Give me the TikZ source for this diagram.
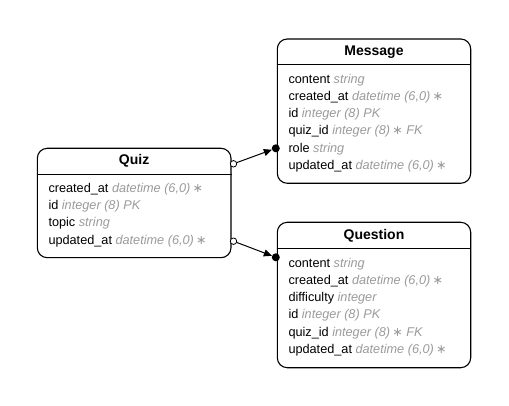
\documentclass[tikz,border=0pt]{standalone}
\usepackage{fontspec}
\setmainfont{Liberation Sans}
\newfontfamily\symfont{DejaVu Sans}
\usetikzlibrary{arrows.meta}
\definecolor{typegray}{RGB}{155,155,155}
\newcommand{\ty}[1]{{\color{typegray}\itshape #1}}
\newcommand{\st}{{\color{typegray}\symfont\fontsize{12.5}{14}\selectfont ∗}}
\tikzset{
  entity/.style={draw=black, line width=1.1pt, rounded corners=10pt, fill=white, inner sep=0pt},
  etitle/.style={font=\fontsize{14}{16}\selectfont\bfseries, anchor=base, inner sep=0pt},
  erow/.style={font=\fontsize{12.7}{15}\selectfont, anchor=base west, inner sep=0pt},
  opencirc/.style={circle, draw=black, fill=white, line width=0.8pt, minimum size=6.5pt, inner sep=0pt},
  dotc/.style={circle, fill=black, minimum size=8pt, inner sep=0pt},
  rel/.style={draw=black, line width=1pt, -{Triangle[length=8pt,width=7pt]}}
}
\begin{document}
\begin{tikzpicture}[x=1pt,y=-1pt]
\useasboundingbox (0,0) rectangle (509,406);
% Message
\node[entity, minimum width=193.4pt, minimum height=144.3pt] (message) at (374,111.15) {};
\draw[line width=1pt] (message.west |- 0,65) -- (message.east |- 0,65);
\node[etitle] (mtitle) at (374,56) {Message};
\node[erow] (m1) at (288.3,83.3) {content \ty{string}};
\node[erow] (m2) at (288.3,100.5) {created\_at \ty{datetime (6,0)}\,\st};
\node[erow] (m3) at (288.3,117.7) {id \ty{integer (8) PK}};
\node[erow] (m4) at (288.3,134.9) {quiz\_id \ty{integer (8)}\,\st\ \ty{FK}};
\node[erow] (m5) at (288.3,152.1) {role \ty{string}};
\node[erow] (m6) at (288.3,169.3) {updated\_at \ty{datetime (6,0)}\,\st};
% Quiz
\node[entity, minimum width=193.7pt, minimum height=109.4pt] (quiz) at (134.15,203) {};
\draw[line width=1pt] (quiz.west |- 0,174.5) -- (quiz.east |- 0,174.5);
\node[etitle] (qtitle) at (134.15,165) {Quiz};
\node[erow] (q1) at (48.3,192.3) {created\_at \ty{datetime (6,0)}\,\st};
\node[erow] (q2) at (48.3,209.6) {id \ty{integer (8) PK}};
\node[erow] (q3) at (48.3,226.9) {topic \ty{string}};
\node[erow] (q4) at (48.3,244.2) {updated\_at \ty{datetime (6,0)}\,\st};
% Question
\node[entity, minimum width=193.4pt, minimum height=145.4pt] (question) at (374,295) {};
\draw[line width=1pt] (question.west |- 0,249) -- (question.east |- 0,249);
\node[etitle] (qutitle) at (374,240) {Question};
\node[erow] (u1) at (288.3,267.3) {content \ty{string}};
\node[erow] (u2) at (288.3,284.5) {created\_at \ty{datetime (6,0)}\,\st};
\node[erow] (u3) at (288.3,301.7) {difficulty \ty{integer}};
\node[erow] (u4) at (288.3,318.9) {id \ty{integer (8) PK}};
\node[erow] (u5) at (288.3,336.1) {quiz\_id \ty{integer (8)}\,\st\ \ty{FK}};
\node[erow] (u6) at (288.3,353.3) {updated\_at \ty{datetime (6,0)}\,\st};
% connectors
\node[opencirc] (c1) at (233.5,163.8) {};
\node[dotc] (d1) at (275.8,148.3) {};
\node[opencirc] (c2) at (233.5,241.2) {};
\node[dotc] (d2) at (275.8,257.3) {};
\draw[rel] (c1) -- (d1);
\draw[rel] (c2) -- (d2);
\end{tikzpicture}
\end{document}
